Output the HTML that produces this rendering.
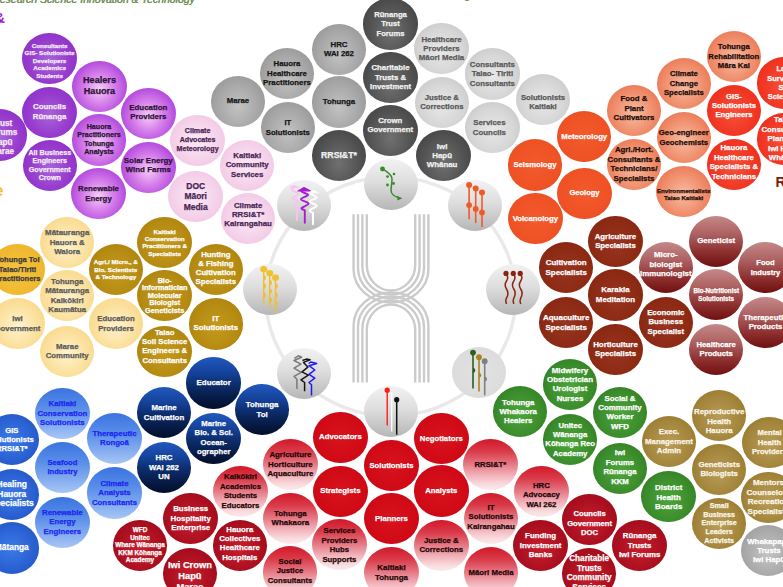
<!DOCTYPE html>
<html><head><meta charset="utf-8"><title>RSI&amp;T</title>
<style>
html,body{margin:0;padding:0;background:#fff;}
body{width:783px;height:587px;overflow:hidden;position:relative;font-family:"Liberation Sans",sans-serif;}
.c{position:absolute;width:54.6px;height:51.2px;border-radius:50%;display:flex;align-items:center;justify-content:center;text-align:center;font-weight:bold;white-space:nowrap;}
.c span{display:block;-webkit-text-stroke:0.25px currentColor;}
.ic{position:absolute;width:54px;height:51px;border-radius:50%;}
.ic svg{position:absolute;left:0;top:0;}
.t{position:absolute;white-space:nowrap;}
</style></head><body>
<svg style="position:absolute;left:0;top:0" width="783" height="587"><ellipse cx="390.8" cy="296.5" rx="125" ry="119.6" fill="none" stroke="#e9e9e9" stroke-width="3.4"/><g fill="none" stroke="#cbcbcb" stroke-width="2.4"><path d="M353.6,214.3 L353.6,269.5 A37.4,33 0 0 0 428.4,269.5 L428.4,214.3" /><path d="M353.6,382.4 L353.6,325.5 A37.4,33 0 0 1 428.4,325.5 L428.4,382.4" /><path d="M358,214.3 L358,268 A33,30.5 0 0 0 424,268 L424,214.3" /><path d="M358,382.4 L358,327 A33,30.5 0 0 1 424,327 L424,382.4" /><path d="M362.4,214.3 L362.4,266.5 A28.6,28 0 0 0 419.6,266.5 L419.6,214.3" /><path d="M362.4,382.4 L362.4,328.5 A28.6,28 0 0 1 419.6,328.5 L419.6,382.4" /><path d="M366.8,214.3 L366.8,265 A24.2,25.5 0 0 0 415.2,265 L415.2,214.3" /><path d="M366.8,382.4 L366.8,330 A24.2,25.5 0 0 1 415.2,330 L415.2,382.4" /></g></svg>
<div class="c" style="left:22.3px;top:32.9px;background:radial-gradient(ellipse at 50% 55%, #a764d8 0%, #9639cd 55%, #8a2bc4 100%);color:#f6ecfa"><span style="font-size:6.21px;line-height:7.5px;transform:translate(0px,2.3px)">Consultants<br>GIS- Solutionists<br>Developers<br>Academics<br>Students</span></div>
<div class="c" style="left:72.2px;top:60.6px;background:radial-gradient(ellipse at 50% 55%, #f6cdf6 0%, #d680ea 38%, #b044dc 75%, #a231d2 100%);color:#2a1236"><span style="font-size:9.13px;line-height:11.4px">Healers<br>Hauora</span></div>
<div class="c" style="left:22.3px;top:86.7px;background:radial-gradient(ellipse at 50% 55%, #a764d8 0%, #9639cd 55%, #8a2bc4 100%);color:#f6ecfa"><span style="font-size:7.83px;line-height:10px;transform:translate(0px,-0.5px)">Councils<br>Rūnanga</span></div>
<div class="c" style="left:121px;top:87.9px;background:radial-gradient(ellipse at 50% 55%, #f6cdf6 0%, #d680ea 38%, #b044dc 75%, #a231d2 100%);color:#2a1236"><span style="font-size:7.86px;line-height:9.4px;transform:translate(0px,-1.3px)">Education<br>Providers</span></div>
<div class="c" style="left:-28px;top:109.4px;background:radial-gradient(ellipse at 50% 55%, #a764d8 0%, #9639cd 55%, #8a2bc4 100%);color:#f6ecfa"><span style="font-size:8.18px;line-height:9.5px;transform:translate(3px,3.4px)">Trust<br>Forums<br>Hapū<br>Marae</span></div>
<div class="c" style="left:71.7px;top:114.4px;background:radial-gradient(ellipse at 50% 55%, #f6cdf6 0%, #d680ea 38%, #b044dc 75%, #a231d2 100%);color:#2a1236"><span style="font-size:7.1px;line-height:8.5px">Hauora<br>Practitioners<br>Tohunga<br>Analysts</span></div>
<div class="c" style="left:22.5px;top:140.2px;background:radial-gradient(ellipse at 50% 55%, #a764d8 0%, #9639cd 55%, #8a2bc4 100%);color:#f6ecfa"><span style="font-size:7.11px;line-height:8.5px">All Business<br>Engineers<br>Government<br>Crown</span></div>
<div class="c" style="left:121px;top:141.6px;background:radial-gradient(ellipse at 50% 55%, #f6cdf6 0%, #d680ea 38%, #b044dc 75%, #a231d2 100%);color:#2a1236"><span style="font-size:7.94px;line-height:9.2px;transform:translate(0px,-2px)">Solar Energy<br>Wind Farms</span></div>
<div class="c" style="left:71.2px;top:168px;background:radial-gradient(ellipse at 50% 55%, #f6cdf6 0%, #d680ea 38%, #b044dc 75%, #a231d2 100%);color:#2a1236"><span style="font-size:7.85px;line-height:9.5px">Renewable<br>Energy</span></div>
<div class="c" style="left:170.3px;top:114.9px;background:radial-gradient(ellipse at 50% 50%, #fbe9f6 0%, #f5d2ea 55%, #efbddf 100%);color:#4a2454"><span style="font-size:7.07px;line-height:9px;transform:translate(0px,-1.3px)">Climate<br>Advocates<br>Meteorology</span></div>
<div class="c" style="left:219.9px;top:139.6px;background:radial-gradient(ellipse at 50% 50%, #fbe9f6 0%, #f5d2ea 55%, #efbddf 100%);color:#4a2454"><span style="font-size:7.82px;line-height:9.4px">Kaitiaki<br>Community<br>Services</span></div>
<div class="c" style="left:168.4px;top:170.9px;background:radial-gradient(ellipse at 50% 50%, #fbe9f6 0%, #f5d2ea 55%, #efbddf 100%);color:#4a2454"><span style="font-size:8.47px;line-height:10.5px">DOC<br>Māori<br>Media</span></div>
<div class="c" style="left:220.8px;top:192.9px;background:radial-gradient(ellipse at 50% 50%, #fbe9f6 0%, #f5d2ea 55%, #efbddf 100%);color:#4a2454"><span style="font-size:7.86px;line-height:9px;transform:translate(0px,-4.2px)">Climate<br>RRSI&amp;T*<br>Kairangahau</span></div>
<div class="c" style="left:210.6px;top:75.6px;background:radial-gradient(ellipse at 50% 60%, #c2c2c2 0%, #a6a6a6 55%, #8c8c8c 100%);color:#141414"><span style="font-size:7.78px;line-height:9.4px">Marae</span></div>
<div class="c" style="left:259.7px;top:48.1px;background:radial-gradient(ellipse at 50% 60%, #c2c2c2 0%, #a6a6a6 55%, #8c8c8c 100%);color:#141414"><span style="font-size:7.82px;line-height:9.6px">Hauora<br>Healthcare<br>Practitioners</span></div>
<div class="c" style="left:260.5px;top:102.1px;background:radial-gradient(ellipse at 50% 60%, #c2c2c2 0%, #a6a6a6 55%, #8c8c8c 100%);color:#141414"><span style="font-size:7.69px;line-height:9.5px">IT<br>Solutionists</span></div>
<div class="c" style="left:311.7px;top:23.8px;background:radial-gradient(ellipse at 50% 60%, #c2c2c2 0%, #a6a6a6 55%, #8c8c8c 100%);color:#141414"><span style="font-size:7.82px;line-height:9.5px">HRC<br>WAI 262</span></div>
<div class="c" style="left:311.7px;top:76.4px;background:radial-gradient(ellipse at 50% 60%, #c2c2c2 0%, #a6a6a6 55%, #8c8c8c 100%);color:#141414"><span style="font-size:7.81px;line-height:9.4px">Tohunga</span></div>
<div class="c" style="left:311.7px;top:130.2px;background:radial-gradient(ellipse at 50% 65%, #707070 0%, #525252 55%, #3c3c3c 100%);color:#f2f2f2"><span style="font-size:8.71px;line-height:9.4px">RRSI&amp;T*</span></div>
<div class="c" style="left:363.2px;top:-1.6px;background:radial-gradient(ellipse at 50% 65%, #707070 0%, #525252 55%, #3c3c3c 100%);color:#f2f2f2"><span style="font-size:7.64px;line-height:9.5px">Rūnanga<br>Trust<br>Forums</span></div>
<div class="c" style="left:363.2px;top:51.9px;background:radial-gradient(ellipse at 50% 65%, #707070 0%, #525252 55%, #3c3c3c 100%);color:#f2f2f2"><span style="font-size:7.77px;line-height:9.5px">Charitable<br>Trusts &amp;<br>Investment</span></div>
<div class="c" style="left:363px;top:104.9px;background:radial-gradient(ellipse at 50% 65%, #707070 0%, #525252 55%, #3c3c3c 100%);color:#f2f2f2"><span style="font-size:7.73px;line-height:9.2px;transform:translate(0px,-5.5px)">Crown<br>Government</span></div>
<div class="c" style="left:416.3px;top:129.9px;background:radial-gradient(ellipse at 50% 65%, #707070 0%, #525252 55%, #3c3c3c 100%);color:#f2f2f2"><span style="font-size:7.9px;line-height:9.3px;transform:translate(-1.5px,0px)">Iwi<br>Hapū<br>Whānau</span></div>
<div class="c" style="left:414.2px;top:22.9px;background:radial-gradient(ellipse at 50% 55%, #e8e8e8 0%, #d6d6d6 55%, #bfbfbf 100%);color:#595959"><span style="font-size:7.87px;line-height:9.2px">Healthcare<br>Providers<br>Māori Media</span></div>
<div class="c" style="left:414.5px;top:76.8px;background:radial-gradient(ellipse at 50% 55%, #e8e8e8 0%, #d6d6d6 55%, #bfbfbf 100%);color:#595959"><span style="font-size:7.73px;line-height:9.5px">Justice &amp;<br>Corrections</span></div>
<div class="c" style="left:465.1px;top:48.4px;background:radial-gradient(ellipse at 50% 55%, #e8e8e8 0%, #d6d6d6 55%, #bfbfbf 100%);color:#595959"><span style="font-size:7.82px;line-height:9.5px">Consultants<br>Taiao- Tiriti<br>Consultants</span></div>
<div class="c" style="left:465.1px;top:102px;background:radial-gradient(ellipse at 50% 55%, #e8e8e8 0%, #d6d6d6 55%, #bfbfbf 100%);color:#595959"><span style="font-size:7.87px;line-height:9.2px;transform:translate(-3px,0px)">Services<br>Councils</span></div>
<div class="c" style="left:515.7px;top:73.6px;background:radial-gradient(ellipse at 50% 55%, #e8e8e8 0%, #d6d6d6 55%, #bfbfbf 100%);color:#595959"><span style="font-size:7.72px;line-height:9.5px;transform:translate(0px,3px)">Solutionists<br>Kaitiaki</span></div>
<div class="c" style="left:556.9px;top:111.2px;background:radial-gradient(ellipse at 50% 50%, #f25a2c 0%, #ef5225 60%, #ea4c20 100%);color:#ffffff"><span style="font-size:7.74px;line-height:9.4px">Meteorology</span></div>
<div class="c" style="left:507.7px;top:139.4px;background:radial-gradient(ellipse at 50% 50%, #f25a2c 0%, #ef5225 60%, #ea4c20 100%);color:#ffffff"><span style="font-size:7.66px;line-height:9.4px">Seismology</span></div>
<div class="c" style="left:557.2px;top:167.6px;background:radial-gradient(ellipse at 50% 50%, #f25a2c 0%, #ef5225 60%, #ea4c20 100%);color:#ffffff"><span style="font-size:7.5px;line-height:9.4px">Geology</span></div>
<div class="c" style="left:508.1px;top:192.9px;background:radial-gradient(ellipse at 50% 50%, #f25a2c 0%, #ef5225 60%, #ea4c20 100%);color:#ffffff"><span style="font-size:7.75px;line-height:9.4px">Volcanology</span></div>
<div class="c" style="left:606.7px;top:84.8px;background:radial-gradient(ellipse at 50% 55%, #f8bca4 0%, #f0906e 50%, #e66440 100%);color:#1c0c08"><span style="font-size:7.83px;line-height:9.5px;transform:translate(0px,-2.3px)">Food &amp;<br>Plant<br>Cultivators</span></div>
<div class="c" style="left:656.6px;top:57.7px;background:radial-gradient(ellipse at 50% 55%, #f8bca4 0%, #f0906e 50%, #e66440 100%);color:#1c0c08"><span style="font-size:7.66px;line-height:9.4px">Climate<br>Change<br>Specialists</span></div>
<div class="c" style="left:706.5px;top:30.8px;background:radial-gradient(ellipse at 50% 55%, #f8bca4 0%, #f0906e 50%, #e66440 100%);color:#1c0c08"><span style="font-size:7.71px;line-height:9.4px">Tohunga<br>Rehabilitation<br>Māra Kai</span></div>
<div class="c" style="left:656.5px;top:112.2px;background:radial-gradient(ellipse at 50% 55%, #f8bca4 0%, #f0906e 50%, #e66440 100%);color:#1c0c08"><span style="font-size:7.76px;line-height:9.5px">Geo-engineer<br>Geochemists</span></div>
<div class="c" style="left:606.7px;top:138.7px;background:radial-gradient(ellipse at 50% 55%, #f8bca4 0%, #f0906e 50%, #e66440 100%);color:#1c0c08"><span style="font-size:7.82px;line-height:9.4px">Agri./Hort.<br>Consultants &amp;<br>Technicians/<br>Specialists</span></div>
<div class="c" style="left:656.4px;top:165.8px;background:radial-gradient(ellipse at 50% 55%, #f8bca4 0%, #f0906e 50%, #e66440 100%);color:#1c0c08"><span style="font-size:6.18px;line-height:7.7px;transform:translate(0px,2.5px)">Environmentalists<br>Taiao Kaitiaki</span></div>
<div class="c" style="left:706.7px;top:84.9px;background:radial-gradient(ellipse at 50% 55%, #f5503a 0%, #f03522 60%, #ea2a18 100%);color:#ffffff"><span style="font-size:7.69px;line-height:9.2px;transform:translate(0px,-5.4px)">GIS-<br>Solutionists<br>Engineers</span></div>
<div class="c" style="left:706.6px;top:138.7px;background:radial-gradient(ellipse at 50% 55%, #f5503a 0%, #f03522 60%, #ea2a18 100%);color:#ffffff"><span style="font-size:7.79px;line-height:9.4px;transform:translate(0px,-2.3px)">Hauora<br>Healthcare<br>Specialists &amp;<br>Technicians</span></div>
<div class="c" style="left:756.7px;top:57.4px;background:radial-gradient(ellipse at 50% 55%, #f5503a 0%, #f03522 60%, #ea2a18 100%);color:#ffffff"><span style="font-size:7.5px;line-height:9.4px;transform:translate(1.5px,0px)">Land<br>Surveyors<br>Soil<br>Scientists</span></div>
<div class="c" style="left:756.7px;top:113.4px;background:radial-gradient(ellipse at 50% 55%, #f5503a 0%, #f03522 60%, #ea2a18 100%);color:#ffffff"><span style="font-size:7.79px;line-height:9.4px">Taiao<br>Consultants<br>Planners<br>Iwi Hapū<br>Whānau</span></div>
<div class="c" style="left:588.2px;top:215.6px;background:radial-gradient(ellipse at 50% 55%, #983420 0%, #8c2a14 60%, #82240f 100%);color:#ffffff"><span style="font-size:7.78px;line-height:9.6px">Agriculture<br>Specialists</span></div>
<div class="c" style="left:538.9px;top:242.1px;background:radial-gradient(ellipse at 50% 55%, #983420 0%, #8c2a14 60%, #82240f 100%);color:#ffffff"><span style="font-size:7.92px;line-height:9.6px">Cultivation<br>Specialists</span></div>
<div class="c" style="left:588.2px;top:269.4px;background:radial-gradient(ellipse at 50% 55%, #983420 0%, #8c2a14 60%, #82240f 100%);color:#ffffff"><span style="font-size:7.86px;line-height:9.6px">Karakia<br>Meditation</span></div>
<div class="c" style="left:538.9px;top:297px;background:radial-gradient(ellipse at 50% 55%, #983420 0%, #8c2a14 60%, #82240f 100%);color:#ffffff"><span style="font-size:7.94px;line-height:9.6px">Aquaculture<br>Specialists</span></div>
<div class="c" style="left:588.2px;top:323.9px;background:radial-gradient(ellipse at 50% 55%, #983420 0%, #8c2a14 60%, #82240f 100%);color:#ffffff"><span style="font-size:7.89px;line-height:9.6px">Horticulture<br>Specialists</span></div>
<div class="c" style="left:638.5px;top:296.5px;background:radial-gradient(ellipse at 50% 55%, #983420 0%, #8c2a14 60%, #82240f 100%);color:#ffffff"><span style="font-size:7.8px;line-height:9.4px">Economic<br>Business<br>Specialist</span></div>
<div class="c" style="left:638.5px;top:241.7px;background:linear-gradient(to bottom, #c58888 0%, #ad6262 35%, #8e3030 70%, #701010 100%);color:#ffffff"><span style="font-size:7.89px;line-height:9.3px;transform:translate(0px,-3.2px)">Micro-<br>biologist<br>Immunologist</span></div>
<div class="c" style="left:688.9px;top:215.6px;background:linear-gradient(to bottom, #c58888 0%, #ad6262 35%, #8e3030 70%, #701010 100%);color:#ffffff"><span style="font-size:7.86px;line-height:9.4px">Geneticist</span></div>
<div class="c" style="left:688.9px;top:269.1px;background:linear-gradient(to bottom, #c58888 0%, #ad6262 35%, #8e3030 70%, #701010 100%);color:#ffffff"><span style="font-size:6.28px;line-height:7.5px">Bio-Nutritionist<br>Solutionists</span></div>
<div class="c" style="left:688.9px;top:323.9px;background:linear-gradient(to bottom, #c58888 0%, #ad6262 35%, #8e3030 70%, #701010 100%);color:#ffffff"><span style="font-size:7.69px;line-height:9.4px">Healthcare<br>Products</span></div>
<div class="c" style="left:738.2px;top:242px;background:linear-gradient(to bottom, #c58888 0%, #ad6262 35%, #8e3030 70%, #701010 100%);color:#ffffff"><span style="font-size:7.53px;line-height:9.4px">Food<br>Industry</span></div>
<div class="c" style="left:738.2px;top:296.8px;background:linear-gradient(to bottom, #c58888 0%, #ad6262 35%, #8e3030 70%, #701010 100%);color:#ffffff"><span style="font-size:7.76px;line-height:9.4px">Therapeutic<br>Products</span></div>
<div class="c" style="left:542.7px;top:358.9px;background:radial-gradient(ellipse at 50% 55%, #4ca63a 0%, #3a8b2b 60%, #2c6f1e 100%);color:#ffffff"><span style="font-size:7.88px;line-height:9.45px">Midwifery<br>Obstetrician<br>Urologist<br>Nurses</span></div>
<div class="c" style="left:492.7px;top:386.2px;background:radial-gradient(ellipse at 50% 55%, #4ca63a 0%, #3a8b2b 60%, #2c6f1e 100%);color:#ffffff"><span style="font-size:7.85px;line-height:9.3px;transform:translate(-1.8px,0px)">Tohunga<br>Whakaora<br>Healers</span></div>
<div class="c" style="left:592.7px;top:386.9px;background:radial-gradient(ellipse at 50% 55%, #4ca63a 0%, #3a8b2b 60%, #2c6f1e 100%);color:#ffffff"><span style="font-size:7.89px;line-height:9.45px">Social &amp;<br>Community<br>Worker<br>WFD</span></div>
<div class="c" style="left:542.9px;top:413.9px;background:radial-gradient(ellipse at 50% 55%, #4ca63a 0%, #3a8b2b 60%, #2c6f1e 100%);color:#ffffff"><span style="font-size:7.73px;line-height:9.4px">Unitec<br>Wānanga<br>Kōhanga Reo<br>Academy</span></div>
<div class="c" style="left:592.7px;top:442.6px;background:radial-gradient(ellipse at 50% 55%, #4ca63a 0%, #3a8b2b 60%, #2c6f1e 100%);color:#ffffff"><span style="font-size:7.76px;line-height:9.4px;transform:translate(0px,-1px)">Iwi<br>Forums<br>Rūnanga<br>KKM</span></div>
<div class="c" style="left:641.4px;top:470.9px;background:radial-gradient(ellipse at 50% 55%, #4ca63a 0%, #3a8b2b 60%, #2c6f1e 100%);color:#ffffff"><span style="font-size:7.92px;line-height:9.6px;transform:translate(0px,1px)">District<br>Health<br>Boards</span></div>
<div class="c" style="left:641.7px;top:416.1px;background:radial-gradient(ellipse at 50% 55%, #b99c58 0%, #a2843a 60%, #8f7022 100%);color:#fbf6e8"><span style="font-size:7.84px;line-height:9.6px">Exec.<br>Management<br>Admin</span></div>
<div class="c" style="left:691.9px;top:389.9px;background:radial-gradient(ellipse at 50% 55%, #b99c58 0%, #a2843a 60%, #8f7022 100%);color:#fbf6e8"><span style="font-size:7.86px;line-height:9.6px;transform:translate(0px,5.5px)">Reproductive<br>Health<br>Hauora</span></div>
<div class="c" style="left:742.2px;top:416.9px;background:radial-gradient(ellipse at 50% 55%, #b99c58 0%, #a2843a 60%, #8f7022 100%);color:#fbf6e8"><span style="font-size:7.6px;line-height:9.6px">Mental<br>Health<br>Providers</span></div>
<div class="c" style="left:691.9px;top:443.9px;background:radial-gradient(ellipse at 50% 55%, #b99c58 0%, #a2843a 60%, #8f7022 100%);color:#fbf6e8"><span style="font-size:7.72px;line-height:9.6px">Geneticists<br>Biologists</span></div>
<div class="c" style="left:741.2px;top:471.9px;background:radial-gradient(ellipse at 50% 55%, #b99c58 0%, #a2843a 60%, #8f7022 100%);color:#fbf6e8"><span style="font-size:8px;line-height:9.7px">Mentors<br>Counselors<br>Recreation<br>Specialists</span></div>
<div class="c" style="left:691.9px;top:498.2px;background:radial-gradient(ellipse at 50% 55%, #b99c58 0%, #a2843a 60%, #8f7022 100%);color:#fbf6e8"><span style="font-size:7.12px;line-height:8.6px">Small<br>Business<br>Enterprise<br>Leaders<br>Activists</span></div>
<div class="c" style="left:740.7px;top:525.1px;background:radial-gradient(ellipse at 50% 55%, #c4c4c4 0%, #a8a8a8 60%, #969696 100%);color:#ffffff"><span style="font-size:7.83px;line-height:9.3px;transform:translate(1px,0px)">Whakapapa<br>Trusts<br>Iwi Hapū</span></div>
<div class="c" style="left:562.3px;top:493.6px;background:radial-gradient(ellipse at 50% 55%, #c81e2e 0%, #ac1020 55%, #960816 100%);color:#ffffff"><span style="font-size:7.64px;line-height:9.2px;transform:translate(0px,4.2px)">Councils<br>Government<br>DOC</span></div>
<div class="c" style="left:612.3px;top:520px;background:radial-gradient(ellipse at 50% 55%, #c81e2e 0%, #ac1020 55%, #960816 100%);color:#ffffff"><span style="font-size:7.84px;line-height:9.45px">Rūnanga<br>Trusts<br>Iwi Forums</span></div>
<div class="c" style="left:561.9px;top:547.7px;background:radial-gradient(ellipse at 50% 55%, #c81e2e 0%, #ac1020 55%, #960816 100%);color:#ffffff"><span style="font-size:8.18px;line-height:9.6px">Charitable<br>Trusts<br>Community<br>Services</span></div>
<div class="c" style="left:513.3px;top:519.6px;background:radial-gradient(ellipse at 50% 55%, #c81e2e 0%, #ac1020 55%, #960816 100%);color:#ffffff"><span style="font-size:7.86px;line-height:9.3px">Funding<br>Investment<br>Banks</span></div>
<div class="c" style="left:212.5px;top:519.9px;background:radial-gradient(ellipse at 50% 55%, #c81e2e 0%, #ac1020 55%, #960816 100%);color:#ffffff"><span style="font-size:7.82px;line-height:9.4px;transform:translate(0px,-2.3px)">Hauora<br>Collectives<br>Healthcare<br>Hospitals</span></div>
<div class="c" style="left:163.4px;top:492.9px;background:radial-gradient(ellipse at 50% 55%, #c81e2e 0%, #ac1020 55%, #960816 100%);color:#ffffff"><span style="font-size:7.88px;line-height:9.7px">Business<br>Hospitality<br>Enterprise</span></div>
<div class="c" style="left:112.7px;top:519.5px;background:radial-gradient(ellipse at 50% 55%, #c81e2e 0%, #ac1020 55%, #960816 100%);color:#ffffff"><span style="font-size:6.39px;line-height:7.6px">WFD<br>Unitec<br>Whare Wānanga<br>KKM Kōhanga<br>Academy</span></div>
<div class="c" style="left:162.6px;top:547.9px;background:radial-gradient(ellipse at 50% 55%, #c81e2e 0%, #ac1020 55%, #960816 100%);color:#ffffff"><span style="font-size:9.32px;line-height:11.2px;transform:translate(0px,3px)">Iwi Crown<br>Hapū<br>Marae</span></div>
<div class="c" style="left:313.1px;top:411.6px;background:radial-gradient(ellipse at 50% 50%, #d8141e 0%, #d00a16 60%, #c80812 100%);color:#ffffff"><span style="font-size:7.76px;line-height:9.4px">Advocators</span></div>
<div class="c" style="left:414px;top:413px;background:radial-gradient(ellipse at 50% 50%, #d8141e 0%, #d00a16 60%, #c80812 100%);color:#ffffff"><span style="font-size:7.74px;line-height:9.4px">Negotiators</span></div>
<div class="c" style="left:364.2px;top:439.7px;background:radial-gradient(ellipse at 50% 50%, #d8141e 0%, #d00a16 60%, #c80812 100%);color:#ffffff"><span style="font-size:7.69px;line-height:9.4px">Solutionists</span></div>
<div class="c" style="left:313.1px;top:465.5px;background:radial-gradient(ellipse at 50% 50%, #d8141e 0%, #d00a16 60%, #c80812 100%);color:#ffffff"><span style="font-size:7.82px;line-height:9.4px">Strategists</span></div>
<div class="c" style="left:414px;top:465.4px;background:radial-gradient(ellipse at 50% 50%, #d8141e 0%, #d00a16 60%, #c80812 100%);color:#ffffff"><span style="font-size:7.68px;line-height:9.4px">Analysts</span></div>
<div class="c" style="left:364.2px;top:492.8px;background:radial-gradient(ellipse at 50% 50%, #d8141e 0%, #d00a16 60%, #c80812 100%);color:#ffffff"><span style="font-size:7.81px;line-height:9.4px">Planners</span></div>
<div class="c" style="left:263.1px;top:438.9px;background:linear-gradient(to bottom, #d2182a 0%, #da3c4a 25%, #e67a86 50%, #f2b4bc 72%, #f9dde0 90%, #fbeaec 100%);color:#240606"><span style="font-size:7.89px;line-height:9.4px">Agriculture<br>Horticulture<br>Aquaculture</span></div>
<div class="c" style="left:213.2px;top:465.5px;background:linear-gradient(to bottom, #d2182a 0%, #da3c4a 25%, #e67a86 50%, #f2b4bc 72%, #f9dde0 90%, #fbeaec 100%);color:#240606"><span style="font-size:7.76px;line-height:9.5px">Kaikōkiri<br>Academics<br>Students<br>Educators</span></div>
<div class="c" style="left:263.1px;top:493px;background:linear-gradient(to bottom, #d2182a 0%, #da3c4a 25%, #e67a86 50%, #f2b4bc 72%, #f9dde0 90%, #fbeaec 100%);color:#240606"><span style="font-size:7.87px;line-height:9.1px;transform:translate(0px,-1px)">Tohunga<br>Whakaora</span></div>
<div class="c" style="left:312.1px;top:518.9px;background:linear-gradient(to bottom, #d2182a 0%, #da3c4a 25%, #e67a86 50%, #f2b4bc 72%, #f9dde0 90%, #fbeaec 100%);color:#240606"><span style="font-size:7.72px;line-height:9.5px;transform:translate(0px,1.2px)">Services<br>Providers<br>Hubs<br>Supports</span></div>
<div class="c" style="left:262.7px;top:546.4px;background:linear-gradient(to bottom, #d2182a 0%, #da3c4a 25%, #e67a86 50%, #f2b4bc 72%, #f9dde0 90%, #fbeaec 100%);color:#240606"><span style="font-size:7.74px;line-height:9.4px;transform:translate(0px,-1.3px)">Social<br>Justice<br>Consultants</span></div>
<div class="c" style="left:364.2px;top:547.1px;background:linear-gradient(to bottom, #d2182a 0%, #da3c4a 25%, #e67a86 50%, #f2b4bc 72%, #f9dde0 90%, #fbeaec 100%);color:#240606"><span style="font-size:7.96px;line-height:9.4px">Kaitiaki<br>Tohunga</span></div>
<div class="c" style="left:463.1px;top:438.9px;background:linear-gradient(to bottom, #d2182a 0%, #da3c4a 25%, #e67a86 50%, #f2b4bc 72%, #f9dde0 90%, #fbeaec 100%);color:#240606"><span style="font-size:7.78px;line-height:9.4px">RRSI&amp;T*</span></div>
<div class="c" style="left:514.1px;top:466.2px;background:linear-gradient(to bottom, #d2182a 0%, #da3c4a 25%, #e67a86 50%, #f2b4bc 72%, #f9dde0 90%, #fbeaec 100%);color:#240606"><span style="font-size:7.83px;line-height:9.5px;transform:translate(0px,3px)">HRC<br>Advocacy<br>WAI 262</span></div>
<div class="c" style="left:463.7px;top:492.6px;background:linear-gradient(to bottom, #d2182a 0%, #da3c4a 25%, #e67a86 50%, #f2b4bc 72%, #f9dde0 90%, #fbeaec 100%);color:#240606"><span style="font-size:7.84px;line-height:9.4px;transform:translate(0px,-1.5px)">IT<br>Solutionists<br>Kairangahau</span></div>
<div class="c" style="left:414px;top:519.9px;background:linear-gradient(to bottom, #d2182a 0%, #da3c4a 25%, #e67a86 50%, #f2b4bc 72%, #f9dde0 90%, #fbeaec 100%);color:#240606"><span style="font-size:7.8px;line-height:9.4px">Justice &amp;<br>Corrections</span></div>
<div class="c" style="left:463.7px;top:547.1px;background:linear-gradient(to bottom, #d2182a 0%, #da3c4a 25%, #e67a86 50%, #f2b4bc 72%, #f9dde0 90%, #fbeaec 100%);color:#240606"><span style="font-size:7.79px;line-height:9.4px">Māori Media</span></div>
<div class="c" style="left:186.4px;top:357.4px;background:linear-gradient(to bottom, #2158be 0%, #15429a 30%, #0c2c6a 55%, #071a44 80%, #040e2a 100%);color:#ffffff"><span style="font-size:7.89px;line-height:9.4px">Educator</span></div>
<div class="c" style="left:234.8px;top:384.3px;background:linear-gradient(to bottom, #2158be 0%, #15429a 30%, #0c2c6a 55%, #071a44 80%, #040e2a 100%);color:#ffffff"><span style="font-size:7.89px;line-height:9.5px">Tohunga<br>Toi</span></div>
<div class="c" style="left:136.7px;top:387.1px;background:linear-gradient(to bottom, #2158be 0%, #15429a 30%, #0c2c6a 55%, #071a44 80%, #040e2a 100%);color:#ffffff"><span style="font-size:7.82px;line-height:9.6px">Marine<br>Cultivation</span></div>
<div class="c" style="left:186.4px;top:413px;background:linear-gradient(to bottom, #2158be 0%, #15429a 30%, #0c2c6a 55%, #071a44 80%, #040e2a 100%);color:#ffffff"><span style="font-size:7.74px;line-height:9.5px;transform:translate(0px,-1.5px)">Marine<br>Bio. &amp; Sci.<br>Ocean-<br>ographer</span></div>
<div class="c" style="left:136.7px;top:442.1px;background:linear-gradient(to bottom, #2158be 0%, #15429a 30%, #0c2c6a 55%, #071a44 80%, #040e2a 100%);color:#ffffff"><span style="font-size:7.82px;line-height:9.5px">HRC<br>WAI 262<br>UN</span></div>
<div class="c" style="left:35.1px;top:388px;background:linear-gradient(to bottom, #3a74e0 0%, #5a8ee8 40%, #86aef0 75%, #a8c6f4 100%);color:#1c26f2"><span style="font-size:7.81px;line-height:9.4px">Kaitiaki<br>Conservation<br>Solutionists</span></div>
<div class="c" style="left:87.2px;top:412.9px;background:linear-gradient(to bottom, #3a74e0 0%, #5a8ee8 40%, #86aef0 75%, #a8c6f4 100%);color:#1c26f2"><span style="font-size:7.76px;line-height:9.4px">Therapeutic<br>Rongoā</span></div>
<div class="c" style="left:35.1px;top:441.7px;background:linear-gradient(to bottom, #3a74e0 0%, #5a8ee8 40%, #86aef0 75%, #a8c6f4 100%);color:#1c26f2"><span style="font-size:7.61px;line-height:9.4px">Seafood<br>Industry</span></div>
<div class="c" style="left:87.2px;top:467.4px;background:linear-gradient(to bottom, #3a74e0 0%, #5a8ee8 40%, #86aef0 75%, #a8c6f4 100%);color:#1c26f2"><span style="font-size:7.79px;line-height:9.4px">Climate<br>Analysts<br>Consultants</span></div>
<div class="c" style="left:35.1px;top:496.5px;background:linear-gradient(to bottom, #3a74e0 0%, #5a8ee8 40%, #86aef0 75%, #a8c6f4 100%);color:#1c26f2"><span style="font-size:7.77px;line-height:9.4px">Renewable<br>Energy<br>Engineers</span></div>
<div class="c" style="left:-15.5px;top:414.2px;background:radial-gradient(ellipse at 48% 50%, #3c7ae8 0%, #2c64d6 50%, #1d4dbc 100%);color:#ffffff"><span style="font-size:7.69px;line-height:9.4px">GIS<br>Solutionists<br>RRSI&amp;T*</span></div>
<div class="c" style="left:-15.5px;top:468.7px;background:radial-gradient(ellipse at 48% 50%, #3c7ae8 0%, #2c64d6 50%, #1d4dbc 100%);color:#ffffff"><span style="font-size:8.42px;line-height:9.4px">Healing<br>Hauora<br>Specialists</span></div>
<div class="c" style="left:-15.5px;top:522.4px;background:radial-gradient(ellipse at 48% 50%, #3c7ae8 0%, #2c64d6 50%, #1d4dbc 100%);color:#ffffff"><span style="font-size:8.38px;line-height:9.4px">Mātanga</span></div>
<div class="c" style="left:39.9px;top:216.9px;background:radial-gradient(ellipse at 50% 55%, #fff2cc 0%, #fbe09c 55%, #f6d077 100%);color:#5a5a5a"><span style="font-size:7.88px;line-height:9.5px">Mātauranga<br>Hauora &amp;<br>Waiora</span></div>
<div class="c" style="left:39.9px;top:270px;background:radial-gradient(ellipse at 50% 55%, #fff2cc 0%, #fbe09c 55%, #f6d077 100%);color:#5a5a5a"><span style="font-size:7.82px;line-height:9.2px">Tohunga<br>Mātauranga<br>Kaikōkiri<br>Kaumātua</span></div>
<div class="c" style="left:-9.8px;top:298px;background:radial-gradient(ellipse at 50% 55%, #fff2cc 0%, #fbe09c 55%, #f6d077 100%);color:#5a5a5a"><span style="font-size:7.81px;line-height:9.2px">Iwi<br>Government</span></div>
<div class="c" style="left:88.7px;top:298px;background:radial-gradient(ellipse at 50% 55%, #fff2cc 0%, #fbe09c 55%, #f6d077 100%);color:#5a5a5a"><span style="font-size:7.74px;line-height:9.2px">Education<br>Providers</span></div>
<div class="c" style="left:39.9px;top:325.6px;background:radial-gradient(ellipse at 50% 55%, #fff2cc 0%, #fbe09c 55%, #f6d077 100%);color:#5a5a5a"><span style="font-size:7.82px;line-height:9.5px">Marae<br>Community</span></div>
<div class="c" style="left:-9.8px;top:243.7px;background:radial-gradient(ellipse at 50% 55%, #f4c440 0%, #f0b830 60%, #e8ae24 100%);color:#3a3a3a"><span style="font-size:7.52px;line-height:9.5px">Tohunga Toi<br>Taiao/Tiriti<br>Practitioners</span></div>
<div class="c" style="left:88.5px;top:243.7px;background:radial-gradient(ellipse at 50% 55%, #c49a1c 0%, #b48a12 60%, #a67c0c 100%);color:#ffffff"><span style="font-size:6.24px;line-height:7.4px">Agri./ Micro., &amp;<br>Bio. Scientists<br>&amp; Technology</span></div>
<div class="c" style="left:137.4px;top:216.9px;background:radial-gradient(ellipse at 50% 55%, #c49a1c 0%, #b48a12 60%, #a67c0c 100%);color:#ffffff"><span style="font-size:6.26px;line-height:7.4px">Kaitiaki<br>Conservation<br>Practitioners &amp;<br>Specialists</span></div>
<div class="c" style="left:137.4px;top:270px;background:radial-gradient(ellipse at 50% 55%, #c49a1c 0%, #b48a12 60%, #a67c0c 100%);color:#ffffff"><span style="font-size:7.28px;line-height:7.4px">Bio-<br>informatician<br>Molecular<br>Biologist<br>Geneticists</span></div>
<div class="c" style="left:137.4px;top:325.9px;background:radial-gradient(ellipse at 50% 55%, #c49a1c 0%, #b48a12 60%, #a67c0c 100%);color:#ffffff"><span style="font-size:7.71px;line-height:9.3px;transform:translate(0px,-4.6px)">Taiao<br>Soil Science<br>Engineers &amp;<br>Consultants</span></div>
<div class="c" style="left:188.5px;top:243.6px;background:radial-gradient(ellipse at 50% 55%, #c49a1c 0%, #b48a12 60%, #a67c0c 100%);color:#ffffff"><span style="font-size:7.74px;line-height:9.3px;transform:translate(0px,-1.5px)">Hunting<br>&amp; Fishing<br>Cultivation<br>Specialists</span></div>
<div class="c" style="left:188.5px;top:298.4px;background:radial-gradient(ellipse at 50% 55%, #c49a1c 0%, #b48a12 60%, #a67c0c 100%);color:#ffffff"><span style="font-size:7.76px;line-height:9.4px;transform:translate(0px,-1px)">IT<br>Solutionists</span></div>
<div class="ic" style="left:363.8px;top:159.3px;background:linear-gradient(to bottom, #f2f2f2 0%, #dedede 45%, #b6b6b6 100%)"><svg width="54" height="51" viewBox="0 0 54 51"><path d="M19,10 C23,13 28,15 28,20 C28,25 27,28 27,31 C27,35 31,38 36,39" fill="none" stroke="#3a8a2a" stroke-width="1.5"/><circle cx="18.5" cy="10" r="2.4" fill="#3a8a2a"/><path d="M33,37 L38.5,39.3 L33.5,41.5 Z" fill="#3a8a2a"/><circle cx="30" cy="15" r="1.3" fill="#3a8a2a"/><circle cx="23.5" cy="17.6" r="1.4" fill="#3a8a2a"/><circle cx="29.5" cy="24.5" r="1.4" fill="#3a8a2a"/><circle cx="23.5" cy="26" r="1.4" fill="#3a8a2a"/></svg></div>
<div class="ic" style="left:276.9px;top:180px;background:linear-gradient(to bottom, #f2f2f2 0%, #dedede 45%, #b6b6b6 100%)"><svg width="54" height="51" viewBox="0 0 54 51"><path d="M13.1,7.6 L17,5.6 L21.3,7.6 Z" fill="#f6c4ee" stroke="#f6c4ee" stroke-width="1.2" stroke-linejoin="round"/><path d="M17,6.6 C16.72,7.17 14.58,8.8 15.3,10 C16.02,11.2 21.22,12.43 21.3,13.8 C21.38,15.17 15.8,16.93 15.8,18.2 C15.8,19.47 21.2,20.32 21.3,21.4 C21.4,22.48 16.62,23.78 16.4,24.7 C16.18,25.62 19.4,26.53 20,26.9 L20,40" fill="none" stroke="#f6c4ee" stroke-width="1.9" stroke-linejoin="round" stroke-linecap="round"/><path d="M21,11 L27,7.6 L33.5,11 Z" fill="#a41ed4" stroke="#a41ed4" stroke-width="1.2" stroke-linejoin="round"/><path d="M27,8.6 C26.58,9.1 23.82,10.55 24.5,11.6 C25.18,12.65 31.18,13.62 31.1,14.9 C31.02,16.18 23.92,17.85 24,19.3 C24.08,20.75 31.52,22.15 31.6,23.6 C31.68,25.05 25.13,26.9 24.5,28 C23.87,29.1 27.25,29.83 27.8,30.2 L27.8,42.7" fill="none" stroke="#a41ed4" stroke-width="1.9" stroke-linejoin="round" stroke-linecap="round"/><path d="M32.2,12.7 L36.5,10.5 L40.9,12.7 Z" fill="#ffffff" stroke="#ffffff" stroke-width="1.2" stroke-linejoin="round"/><path d="M36.5,11.5 C36.05,11.88 33.25,12.78 33.8,13.8 C34.35,14.82 39.98,16.33 39.8,17.6 C39.62,18.87 32.7,20.03 32.7,21.4 C32.7,22.77 39.8,24.33 39.8,25.8 C39.8,27.27 33.33,29.02 32.7,30.2 C32.07,31.38 35.45,32.45 36,32.9 L36,44.3" fill="none" stroke="#ffffff" stroke-width="1.9" stroke-linejoin="round" stroke-linecap="round"/></svg></div>
<div class="ic" style="left:447.7px;top:179.7px;background:linear-gradient(to bottom, #f2f2f2 0%, #dedede 45%, #b6b6b6 100%)"><svg width="54" height="51" viewBox="0 0 54 51"><line x1="21.1" y1="5" x2="21.1" y2="39.2" stroke="#f05a28" stroke-width="1.6"/><circle cx="21.1" cy="5" r="3" fill="#f05a28"/><circle cx="21.1" cy="25.1" r="2.9" fill="#f05a28"/><line x1="27.7" y1="8.4" x2="27.7" y2="43.1" stroke="#f05a28" stroke-width="1.6"/><circle cx="27.7" cy="8.4" r="3" fill="#f05a28"/><circle cx="27.7" cy="29" r="2.9" fill="#f05a28"/><line x1="34" y1="12.5" x2="34" y2="47" stroke="#f05a28" stroke-width="1.6"/><circle cx="34" cy="12.5" r="3" fill="#f05a28"/><circle cx="34" cy="32.4" r="2.9" fill="#f05a28"/></svg></div>
<div class="ic" style="left:243.1px;top:264.2px;background:linear-gradient(to bottom, #f2f2f2 0%, #dedede 45%, #b6b6b6 100%)"><svg width="54" height="51" viewBox="0 0 54 51"><line x1="20.7" y1="5.2" x2="20.7" y2="39.5" stroke="#f0c030" stroke-width="1.5"/><ellipse cx="20.7" cy="5.2" rx="3.5" ry="3.1" fill="#f0c030"/><path d="M20.2,10.899999999999999 a2.8,2.8 0 0 1 0,5.6 Z" fill="#f0c030"/><path d="M20.2,19.3 a2.8,2.8 0 0 1 0,5.6 Z" fill="#f0c030"/><path d="M20.2,28.3 a2.8,2.8 0 0 1 0,5.6 Z" fill="#f0c030"/><line x1="26.7" y1="9.2" x2="26.7" y2="43" stroke="#f0c030" stroke-width="1.5"/><ellipse cx="26.7" cy="9.2" rx="3.5" ry="3.1" fill="#f0c030"/><path d="M26.2,15.899999999999999 a2.8,2.8 0 0 1 0,5.6 Z" fill="#f0c030"/><path d="M26.2,24.4 a2.8,2.8 0 0 1 0,5.6 Z" fill="#f0c030"/><path d="M26.2,33.300000000000004 a2.8,2.8 0 0 1 0,5.6 Z" fill="#f0c030"/><line x1="32.5" y1="13.7" x2="32.5" y2="48.5" stroke="#f0c030" stroke-width="1.5"/><ellipse cx="32.5" cy="13.7" rx="3.5" ry="3.1" fill="#f0c030"/><path d="M32.0,19.3 a2.8,2.8 0 0 1 0,5.6 Z" fill="#f0c030"/><path d="M32.0,28.3 a2.8,2.8 0 0 1 0,5.6 Z" fill="#f0c030"/><path d="M32.0,36.7 a2.8,2.8 0 0 1 0,5.6 Z" fill="#f0c030"/></svg></div>
<div class="ic" style="left:486.3px;top:263.9px;background:linear-gradient(to bottom, #f2f2f2 0%, #dedede 45%, #b6b6b6 100%)"><svg width="54" height="51" viewBox="0 0 54 51"><path d="M20.0,10 c2,2 2.5,4 0.5,7 c-2,3 -2,5 0,8 c2,3 1.8,6 0,9 c-1,2 -0.8,4 0,6" fill="none" stroke="#8b2312" stroke-width="1.5"/><circle cx="20.0" cy="9.4" r="2.6" fill="#8b2312"/><path d="M27.3,10 c2,2 2.5,4 0.5,7 c-2,3 -2,5 0,8 c2,3 1.8,6 0,9 c-1,2 -0.8,4 0,6" fill="none" stroke="#8b2312" stroke-width="1.5"/><circle cx="27.3" cy="9.4" r="2.6" fill="#8b2312"/><path d="M34.2,10 c2,2 2.5,4 0.5,7 c-2,3 -2,5 0,8 c2,3 1.8,6 0,9 c-1,2 -0.8,4 0,6" fill="none" stroke="#8b2312" stroke-width="1.5"/><circle cx="34.2" cy="9.4" r="2.6" fill="#8b2312"/></svg></div>
<div class="ic" style="left:277.4px;top:347.5px;background:linear-gradient(to bottom, #f2f2f2 0%, #dedede 45%, #b6b6b6 100%)"><svg width="54" height="51" viewBox="0 0 54 51"><path d="M17.4,10.4 L21.4,7.8 L24.7,9.3 L17,12.5 L24,16.2 L17,20.2 L24.3,24.3 L17,28.3 L19.9,31.2 L19.9,41.1" fill="none" stroke="#7a7a7a" stroke-width="1.5" stroke-linejoin="round"/><path d="M25.4,12.5 L29.4,11.1 L33.1,11.8 L26.5,14.4 L30.9,19.1 L25,23.9 L31.3,27.2 L24,31.9 L27.6,34.5 L27.6,43.3" fill="none" stroke="#151515" stroke-width="1.5" stroke-linejoin="round"/><path d="M31.6,15.5 L33.8,14 L39.7,15.5 L32,17.7 L37.8,22 L32,26.4 L37.8,30.1 L32,34.5 L34.5,36.7 L34.5,47.4" fill="none" stroke="#1a1aff" stroke-width="1.5" stroke-linejoin="round"/></svg></div>
<div class="ic" style="left:452.3px;top:347.4px;background:radial-gradient(ellipse at 50% 50%, #e2e2e2 0%, #dcdcdc 70%, #d2d2d2 100%)"><svg width="54" height="51" viewBox="0 0 54 51"><line x1="21" y1="5.6" x2="21" y2="41.4" stroke="#2f5e1a" stroke-width="1.6"/><circle cx="21" cy="5.6" r="2.9" fill="#2f5e1a"/><path d="M21,21.099999999999998 a2.3,2.3 0 0 1 0,4.6 Z" fill="#2f5e1a"/><line x1="27" y1="10.2" x2="27" y2="44.6" stroke="#a88420" stroke-width="1.6"/><circle cx="27" cy="10.2" r="2.9" fill="#a88420"/><path d="M27,25.9 a2.3,2.3 0 0 1 0,4.6 Z" fill="#a88420"/><line x1="32.7" y1="14.2" x2="32.7" y2="48.4" stroke="#808080" stroke-width="1.6"/><circle cx="32.7" cy="14.2" r="2.9" fill="#808080"/><path d="M32.7,29.8 a2.3,2.3 0 0 1 0,4.6 Z" fill="#808080"/></svg></div>
<div class="ic" style="left:364.3px;top:386.2px;background:linear-gradient(to bottom, #f2f2f2 0%, #dedede 45%, #b6b6b6 100%)"><svg width="54" height="51" viewBox="0 0 54 51"><line x1="23.2" y1="5" x2="23.2" y2="39.5" stroke="#ff1a1a" stroke-width="1.4"/><circle cx="23.2" cy="4.2" r="2.6" fill="#ff1a1a"/><line x1="27.7" y1="6.5" x2="27.7" y2="45.6" stroke="#ffffff" stroke-width="1.4"/><line x1="32.7" y1="14" x2="32.7" y2="48.7" stroke="#111" stroke-width="1.5"/><circle cx="32.7" cy="13.7" r="2.6" fill="#111"/></svg></div>
<div class="t" style="left:-0.5px;top:-6.2px;font-size:10.5px;line-height:1;font-style:italic;color:#728c58;text-shadow:0.45px 0 0 #728c58;">esearch Science Innovation &amp; Technology</div>
<div class="t" style="left:-5.8px;top:10.3px;font-size:15px;line-height:1;font-weight:bold;color:#a020e0;">&amp;</div>
<div class="t" style="left:-5.8px;top:182.1px;font-size:16.4px;line-height:1;font-weight:bold;color:#f0c030;">e</div>
<div class="t" style="left:775.4px;top:175.4px;font-size:14.1px;line-height:1;font-weight:bold;color:#7a1a10;">R</div>
<div class="t" style="left:463.5px;top:-3px;width:6px;height:4px;background:#5a9a4a;border-radius:0 0 3px 3px;"></div>
</body></html>
